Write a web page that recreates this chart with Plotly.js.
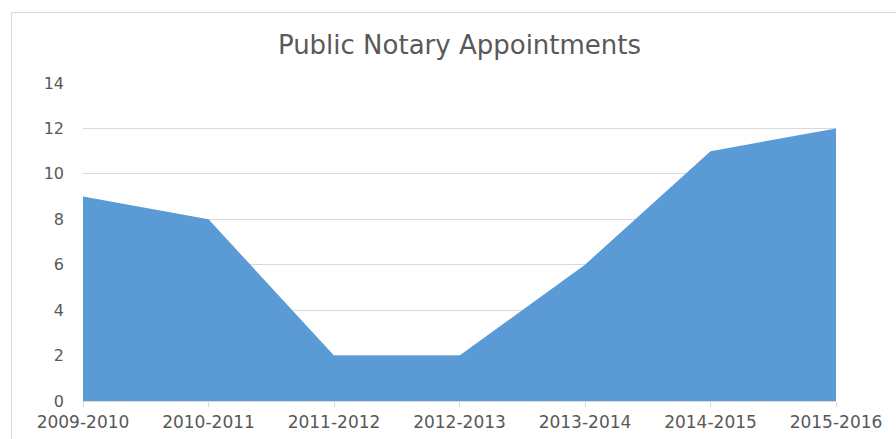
<!DOCTYPE html>
<html>
<head>
<meta charset="utf-8">
<script src="https://cdn.plot.ly/plotly-3.0.1.min.js"></script>
<style>
html,body{margin:0;padding:0;background:#fff;overflow:hidden;}
#frame{position:absolute;left:11px;top:12px;width:1000px;height:1000px;border-left:1px solid #d9d9d9;border-top:1px solid #d9d9d9;}
#chart{position:absolute;left:0;top:0;width:896px;height:439px;}
</style>
</head>
<body>
<div id="frame"></div>
<div id="chart"></div>
<script>
const years = ["2009-2010","2010-2011","2011-2012","2012-2013","2013-2014","2014-2015","2015-2016"];
const appointments = [9, 8, 2, 2, 6, 11, 12];
const yTicks = [0, 2, 4, 6, 8, 10, 12, 14];

const trace = {
  x: years,
  y: appointments,
  type: 'scatter',
  mode: 'lines',
  fill: 'tozeroy',
  fillcolor: '#5b9bd5',
  line: {width: 0, color: '#5b9bd5'},
  hoverinfo: 'x+y'
};

const FONT = 'DejaVu Sans, Liberation Sans, sans-serif';

const layout = {
  width: 896,
  height: 439,
  margin: {l: 83, r: 60, t: 83, b: 38},
  paper_bgcolor: 'rgba(0,0,0,0)',
  plot_bgcolor: 'rgba(0,0,0,0)',
  showlegend: false,
  font: {family: FONT, color: '#595959', size: 15},
  title: {text: 'Public Notary Appointments', xref: 'paper', x: 0.5, xanchor: 'center', y: 0.897, yanchor: 'middle',
          font: {size: 26, color: '#595959', family: FONT}},
  xaxis: {
    type: 'category',
    range: [0, 6],
    showgrid: false,
    showline: true,
    linecolor: '#d9d9d9',
    linewidth: 1,
    ticks: 'outside',
    ticklen: 5,
    tickcolor: '#d9d9d9',
    ticklabelstandoff: 1,
    tickfont: {size: 17, color: '#595959', family: FONT},
    fixedrange: true
  },
  yaxis: {
    range: [0, 14],
    tickvals: yTicks,
    showgrid: true,
    gridcolor: '#d9d9d9',
    zeroline: false,
    showline: false,
    ticks: '',
    ticklabelstandoff: 18,
    tickfont: {size: 16, color: '#595959', family: FONT},
    fixedrange: true
  }
};

Plotly.newPlot('chart', [trace], layout, {displayModeBar: false, staticPlot: true});
</script>
</body>
</html>
